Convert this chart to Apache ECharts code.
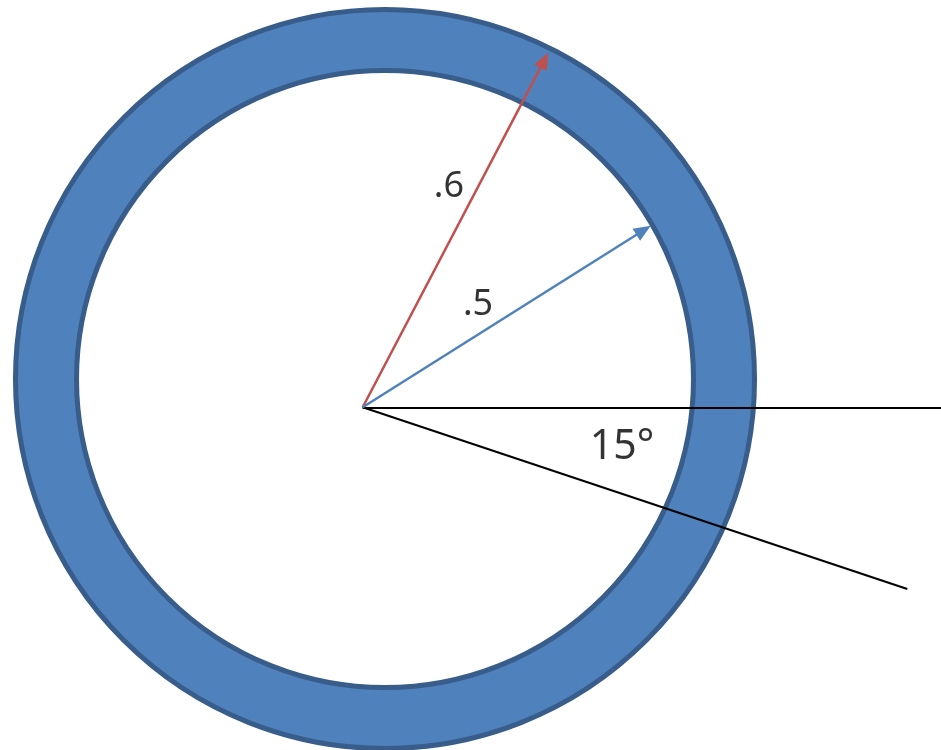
<!DOCTYPE html>
<html>
<head>
<meta charset="utf-8">
<script src="https://cdn.jsdelivr.net/npm/echarts@6/dist/echarts.min.js"></script>
<style>
  html, body { margin: 0; padding: 0; background: #fff; }
  #chart { width: 941px; height: 750px; }
</style>
</head>
<body>
<div id="chart"></div>
<script>
// units: the shared vertex of the arrows is the origin
const ringCenter = [0.0333, 0.0422]
const ringRadii = [0.4604, 0.5515] // inner, outer
const vertex = [0, 0]
const arrowTips = [[0.2770, 0.5293], [0.4299, 0.2710]]
const arrowColors = ['#C0504D', '#4F81BD']
const rayEnds = [[0.87, 0], [0.8128, -0.2712]]
const labelTexts = ['.6', '.5', '15°']
const labelPoints = [[0.1288, 0.3288], [0.1721, 0.1527], [0.3870, -0.0593]]
const labelSizes = [36, 36, 41]

const chart = echarts.init(document.getElementById('chart'))

const option = {
  animation: false,
  backgroundColor: '#fff',
  grid: { left: 0, right: 0, top: 0, bottom: 0 },
  xAxis: {
    type: 'value',
    min: -0.5413,
    max: 0.8631,
    show: false,
    splitLine: { show: false }
  },
  yAxis: {
    type: 'value',
    min: -0.5115,
    max: 0.6079,
    show: false,
    splitLine: { show: false }
  },
  series: [
    {
      // the ring
      type: 'custom',
      z: 1,
      silent: true,
      data: [[ringCenter[0], ringCenter[1], ringRadii[0], ringRadii[1]]],
      encode: { x: 0, y: 1 },
      renderItem(params, api) {
        const c = api.coord([api.value(0), api.value(1)])
        const r0 = api.size([api.value(2), 0])[0]
        const r = api.size([api.value(3), 0])[0]
        return {
          type: 'ring',
          shape: { cx: c[0], cy: c[1], r, r0 },
          style: { fill: '#4F81BD', stroke: '#385D8A', lineWidth: 5 }
        }
      }
    },
    {
      // black rays
      type: 'lines',
      coordinateSystem: 'cartesian2d',
      z: 3,
      silent: true,
      symbol: 'none',
      lineStyle: { color: '#000', width: 2, opacity: 1 },
      data: rayEnds.map(p => ({ coords: [vertex, p] }))
    },
    {
      // arrows: shaft plus a triangle head whose point sits on the tip
      type: 'custom',
      z: 4,
      silent: true,
      data: arrowTips.map(p => [vertex[0], vertex[1], p[0], p[1]]),
      encode: { x: [0, 2], y: [1, 3] },
      renderItem(params, api) {
        const a = api.coord([api.value(0), api.value(1)])
        const b = api.coord([api.value(2), api.value(3)])
        const color = arrowColors[params.dataIndex]
        const dx = b[0] - a[0]
        const dy = b[1] - a[1]
        const len = Math.sqrt(dx * dx + dy * dy)
        const ux = dx / len
        const uy = dy / len
        const headLen = 17
        const headHalf = 7
        const bx = b[0] - ux * headLen
        const by = b[1] - uy * headLen
        return {
          type: 'group',
          children: [
            {
              type: 'line',
              shape: { x1: a[0], y1: a[1], x2: bx + ux * 2, y2: by + uy * 2 },
              style: { stroke: color, lineWidth: 2.5 }
            },
            {
              type: 'polygon',
              shape: {
                points: [
                  b,
                  [bx - uy * headHalf, by + ux * headHalf],
                  [bx + uy * headHalf, by - ux * headHalf]
                ]
              },
              style: { fill: color }
            }
          ]
        }
      }
    },
    {
      type: 'scatter',
      z: 5,
      silent: true,
      symbolSize: 0,
      data: labelPoints.map((p, i) => ({
        value: p,
        name: labelTexts[i],
        label: { fontSize: labelSizes[i] }
      })),
      label: {
        show: true,
        position: [0, 0],
        align: 'center',
        verticalAlign: 'middle',
        formatter: '{b}',
        color: '#000',
        textBorderWidth: 0,
        fontFamily: 'Noto Sans'
      }
    }
  ]
}

chart.setOption(option)
</script>
</body>
</html>
